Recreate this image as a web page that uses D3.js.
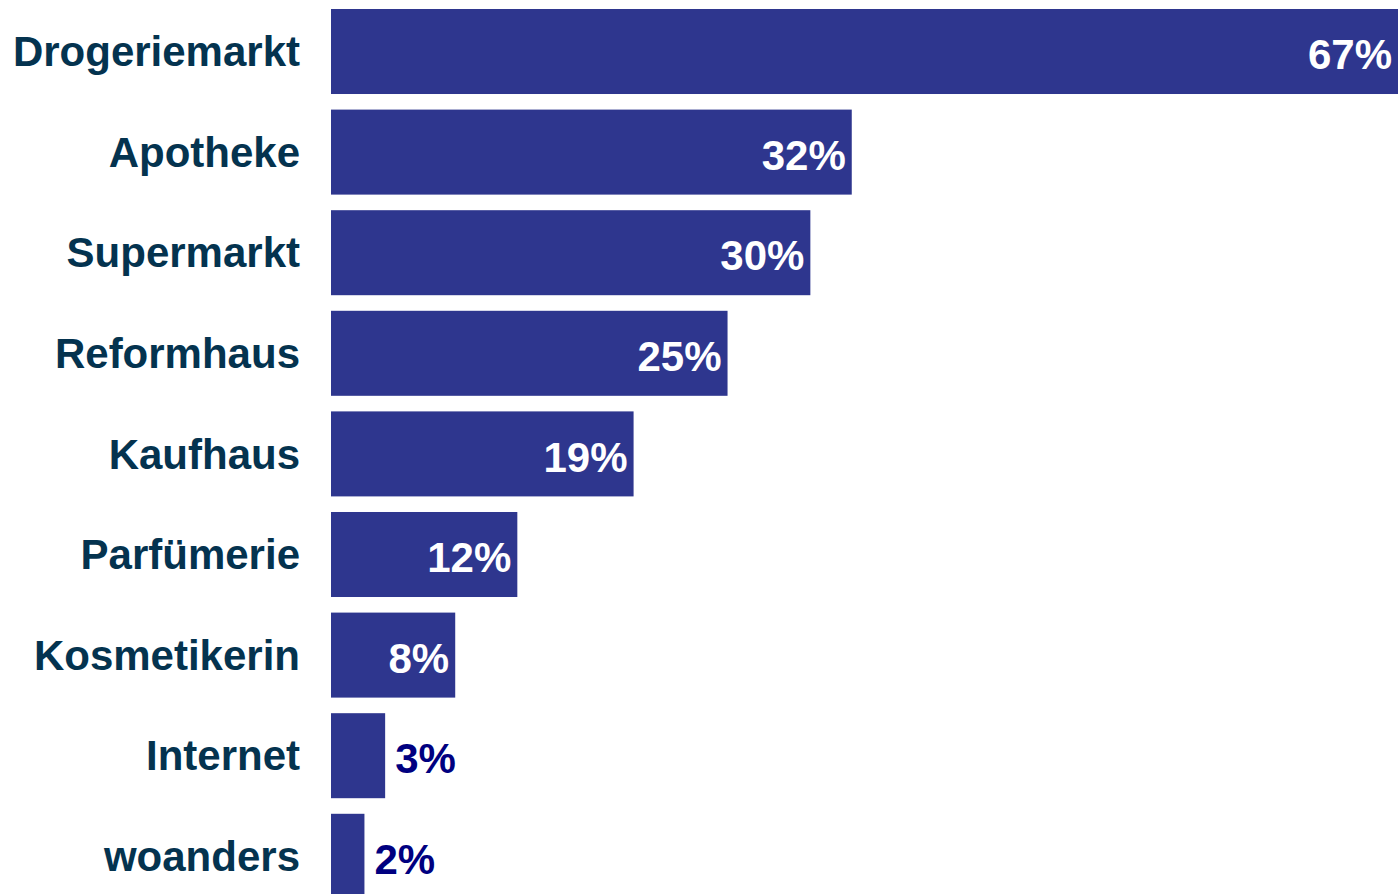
<!DOCTYPE html>
<html>
<head>
<meta charset="utf-8">
<script src="https://cdn.jsdelivr.net/npm/d3@7"></script>
<style>
  html, body { margin: 0; padding: 0; background: #fff; overflow: hidden; }
  svg text { font-family: "Liberation Sans", Arial, sans-serif; font-weight: bold; }
</style>
</head>
<body>
<div id="chart"></div>
<script>
// data (percent of respondents)
var categories = ["Drogeriemarkt", "Apotheke", "Supermarkt", "Reformhaus", "Kaufhaus",
                  "Parfümerie", "Kosmetikerin", "Internet", "woanders"];
var values = [67, 32.7, 30.1, 24.9, 19.0, 11.7, 7.8, 3.4, 2.1];
var valueLabels = ["67%", "32%", "30%", "25%", "19%", "12%", "8%", "3%", "2%"];

var width = 1398, height = 894;

var svg = d3.select("#chart").append("svg")
  .attr("width", width)
  .attr("height", height);

var x = d3.scaleLinear().domain([0, 67]).range([331, 1398]);
var y = d3.scaleBand()
  .domain(categories)
  .range([9, 898.8])
  .paddingInner(0.155)
  .paddingOuter(0);

var rows = categories.map(function (c, i) {
  return { cat: c, val: values[i], label: valueLabels[i] };
});

// bars
svg.selectAll("rect.bar")
  .data(rows)
  .enter().append("rect")
  .attr("class", "bar")
  .attr("x", x(0))
  .attr("y", function (d) { return y(d.cat); })
  .attr("width", function (d) { return x(d.val) - x(0); })
  .attr("height", y.bandwidth())
  .attr("fill", "#2e368e");

// category labels
svg.selectAll("text.cat")
  .data(rows)
  .enter().append("text")
  .attr("class", "cat")
  .attr("x", 300)
  .attr("y", function (d) { return y(d.cat) + y.bandwidth() / 2; })
  .attr("dy", "0.35em")
  .attr("text-anchor", "end")
  .attr("font-size", 42)
  .attr("fill", "#04334f")
  .text(function (d) { return d.cat; });

// value labels: inside for long bars, outside for short ones
svg.selectAll("text.val")
  .data(rows)
  .enter().append("text")
  .attr("class", "val")
  .attr("x", function (d) { return d.val > 5 ? x(d.val) - 6 : x(d.val) + 10; })
  .attr("y", function (d) { return y(d.cat) + y.bandwidth() / 2 + 3; })
  .attr("dy", "0.35em")
  .attr("text-anchor", function (d) { return d.val > 5 ? "end" : "start"; })
  .attr("font-size", 42)
  .attr("fill", function (d) { return d.val > 5 ? "#ffffff" : "#000080"; })
  .text(function (d) { return d.label; });
</script>
</body>
</html>
